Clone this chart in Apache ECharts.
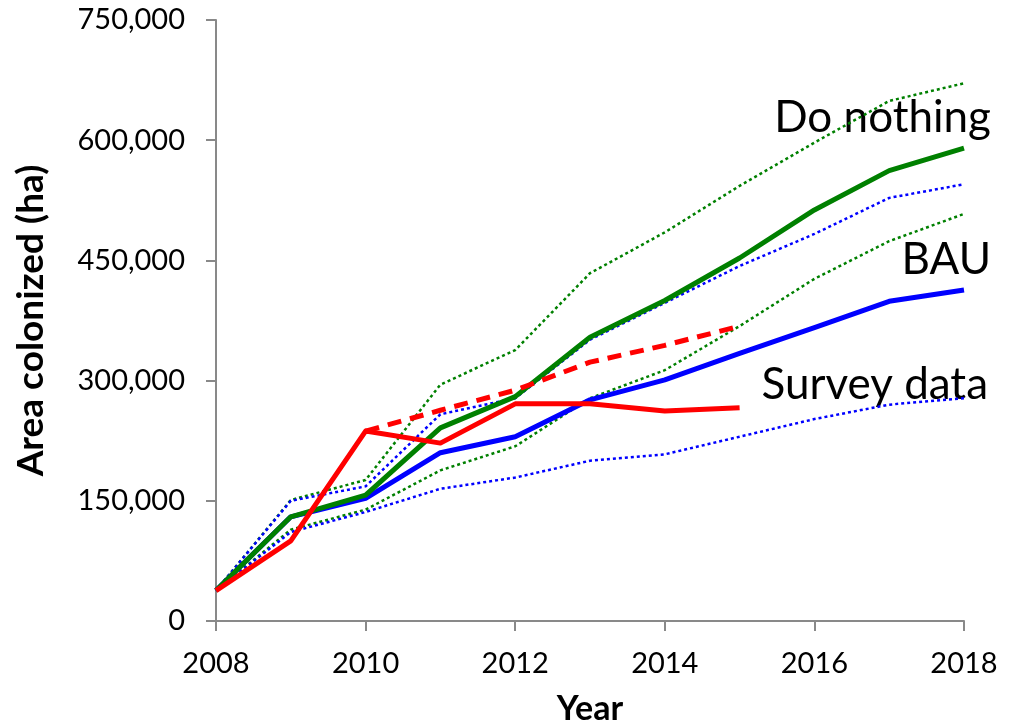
<!DOCTYPE html>
<html>
<head>
<meta charset="utf-8">
<script src="https://cdn.jsdelivr.net/npm/echarts@6/dist/echarts.min.js"></script>
<style>
html,body{margin:0;padding:0;background:#fff;}
#chart{width:1013px;height:726px;}
</style>
</head>
<body>
<div id="chart"></div>
<script>
const years = [2008, 2009, 2010, 2011, 2012, 2013, 2014, 2015, 2016, 2017, 2018];
const surveyYears = [2008, 2009, 2010, 2011, 2012, 2013, 2014, 2015];
const projYears = [2010, 2011, 2012, 2013, 2014, 2015];

const doNothing      = [38000, 130000, 157000, 241000, 280000, 354000, 400000, 453000, 513000, 562000, 590000];
const doNothingHigh  = [38000, 151000, 176000, 295000, 338000, 434000, 485000, 543000, 597000, 649000, 671000];
const doNothingLow   = [38000, 114000, 139000, 188000, 218000, 278000, 313000, 368000, 427000, 474000, 508000];
const bau            = [38000, 130000, 153000, 210000, 230000, 276000, 301000, 334000, 366000, 399000, 413000];
const bauHigh        = [38000, 150000, 168000, 258000, 278000, 351000, 397000, 443000, 483000, 528000, 545000];
const bauLow         = [38000, 111000, 136000, 165000, 179000, 200000, 208000, 230000, 252000, 270000, 278000];
const survey         = [38000, 100000, 237000, 222000, 271000, 271000, 262000, 266000];
const surveyTrend    = [237000, 263000, 288000, 323000, 344000, 368000];

const yTicks = [0, 150000, 300000, 450000, 600000, 750000];
const annotations = ['Do nothing', 'BAU', 'Survey data'];

const pair = (xs, ys) => xs.map((x, i) => [x, ys[i]]);
const FONT = 'Lato, "Open Sans", sans-serif';

const GREEN = '#008000', BLUE = '#0000ff', RED = '#ff0000';

function line(name, xs, ys, color, width, type, z) {
  return {
    name, type: 'line', data: pair(xs, ys), showSymbol: false, symbol: 'none',
    lineStyle: { color, width, type, cap: 'butt', join: 'round' },
    z, silent: true, animation: false
  };
}

const chart = echarts.init(document.getElementById('chart'), null, { renderer: 'canvas' });
chart.setOption({
  backgroundColor: '#ffffff',
  animation: false,
  grid: { left: 216, right: 49, top: 20, bottom: 105, containLabel: false, outerBoundsMode: 'none' },
  xAxis: {
    type: 'value', min: 2008, max: 2018, interval: 2,
    name: 'Year', nameLocation: 'middle', nameGap: 71,
    nameTextStyle: { fontFamily: FONT, fontSize: 34, fontWeight: 'bold', color: '#000' },
    axisLine: { show: true, onZero: false, lineStyle: { color: '#898989', width: 2 } },
    axisTick: { show: true, inside: false, length: 10, lineStyle: { color: '#898989', width: 2 } },
    axisLabel: { margin: 28, fontFamily: FONT, fontSize: 29, color: '#000', formatter: v => String(v) },
    splitLine: { show: false }
  },
  yAxis: {
    type: 'value', min: 0, max: 750000, interval: 150000,
    name: 'Area colonized (ha)', nameLocation: 'middle', nameGap: 166, nameRotate: 90,
    nameTextStyle: { fontFamily: FONT, fontSize: 37, fontWeight: 'bold', color: '#000' },
    axisLine: { show: true, lineStyle: { color: '#898989', width: 2 } },
    axisTick: { show: true, inside: false, length: 10, lineStyle: { color: '#898989', width: 2 } },
    axisLabel: {
      margin: 31, fontFamily: FONT, fontSize: 29, color: '#000',
      formatter: v => yTicks.includes(v) ? v.toLocaleString('en-US') : ''
    },
    splitLine: { show: false }
  },
  series: [
    line('Do nothing high', years, doNothingHigh, GREEN, 2.5, [3, 3], 2),
    line('Do nothing low', years, doNothingLow, GREEN, 2.5, [3, 3], 2),
    line('BAU high', years, bauHigh, BLUE, 2.5, [3, 3], 3),
    line('BAU low', years, bauLow, BLUE, 2.5, [3, 3], 3),
    line('BAU', years, bau, BLUE, 5, 'solid', 4),
    line('Do nothing', years, doNothing, GREEN, 5, 'solid', 5),
    line('Survey trend', projYears, surveyTrend, RED, 5, [14, 9], 6),
    line('Survey data', surveyYears, survey, RED, 5, 'solid', 7)
  ],
  graphic: [
    { type: 'text', right: 22, top: 96, style: { text: annotations[0], font: '44px ' + FONT, fill: '#000' } },
    { type: 'text', right: 22, top: 238, style: { text: annotations[1], font: '44px ' + FONT, fill: '#000' } },
    { type: 'text', right: 25, top: 363, style: { text: annotations[2], font: '44px ' + FONT, fill: '#000' } }
  ]
});
</script>
</body>
</html>
